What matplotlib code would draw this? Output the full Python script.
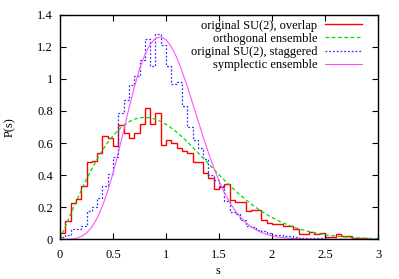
import numpy as np
import matplotlib
matplotlib.use("Agg")
import matplotlib.pyplot as plt

# level spacing histograms, bin width 0.05 on [0, 3]
bin_lo = 0.0
bin_hi = 3.0
overlap = [0.04, 0.116, 0.224, 0.25, 0.334, 0.484, 0.49, 0.536, 0.644, 0.63,
           0.58, 0.71, 0.66, 0.63, 0.66, 0.72, 0.82, 0.72, 0.79, 0.59,
           0.62, 0.60, 0.57, 0.55, 0.536, 0.484, 0.48, 0.415, 0.38, 0.315,
           0.325, 0.345, 0.245, 0.235, 0.235, 0.178, 0.18, 0.18, 0.12, 0.104,
           0.095, 0.095, 0.085, 0.085, 0.065, 0.035, 0.035, 0.045, 0.035, 0.04,
           0.015, 0.015, 0.03, 0.02, 0.02, 0.008, 0.006, 0.006, 0.004, 0.0]
staggered = [0.015, 0.025, 0.062, 0.062, 0.085, 0.178, 0.2, 0.258, 0.33, 0.405,
             0.51, 0.79, 0.87, 0.96, 1.02, 1.12, 1.25, 1.08, 1.28, 1.21,
             1.08, 0.97, 0.98, 0.83, 0.70, 0.62, 0.57, 0.50, 0.40, 0.37,
             0.33, 0.24, 0.17, 0.155, 0.12, 0.085, 0.075, 0.058, 0.05, 0.037,
             0.027, 0.027, 0.02, 0.022, 0.015, 0.01, 0.008, 0.008, 0.006, 0.005,
             0.004, 0.004, 0.003, 0.003, 0.002, 0.0, 0.0, 0.0, 0.0, 0.0]

# surmise curves read at s = 0, 0.05, ..., 3
curve_s = np.linspace(0, 3, 61)
orthogonal = [0.0, 0.0784, 0.1559, 0.2315, 0.3044, 0.3739, 0.4391, 0.4994, 0.5541, 0.6029,
              0.6454, 0.6812, 0.7104, 0.7327, 0.7483, 0.7574, 0.7601, 0.7570, 0.7483, 0.7345,
              0.7162, 0.6938, 0.6680, 0.6393, 0.6083, 0.5755, 0.5415, 0.5068, 0.4717, 0.4368,
              0.4025, 0.3690, 0.3366, 0.3055, 0.2759, 0.2481, 0.2220, 0.1977, 0.1752, 0.1546,
              0.1358, 0.1187, 0.1033, 0.0895, 0.0772, 0.0663, 0.0567, 0.0482, 0.0409, 0.0345,
              0.0290, 0.0243, 0.0202, 0.0168, 0.0138, 0.0114, 0.0093, 0.0076, 0.0062, 0.0050,
              0.0040]
symplectic = [0.0, 0.0001, 0.0011, 0.0056, 0.0170, 0.0393, 0.0766, 0.1319, 0.2067, 0.3007,
              0.4116, 0.540, 0.675, 0.815, 0.945, 1.060, 1.150, 1.215, 1.252, 1.262,
              1.245, 1.200, 1.135, 1.050, 0.955, 0.850, 0.745, 0.640, 0.540, 0.447,
              0.365, 0.2911, 0.2314, 0.1811, 0.1398, 0.1062, 0.0795, 0.0587, 0.0427, 0.0307,
              0.0217, 0.0151, 0.0104, 0.0071, 0.0047, 0.0031, 0.0020, 0.0013, 0.0008, 0.0005,
              0.0003, 0.0002, 0.0001, 0.0001, 0.0, 0.0, 0.0, 0.0, 0.0, 0.0,
              0.0]

labels = ["original SU(2), overlap", "orthogonal ensemble",
          "original SU(2), staggered", "symplectic ensemble"]
xticks = [0, 0.5, 1, 1.5, 2, 2.5, 3]
yticks = [0, 0.2, 0.4, 0.6, 0.8, 1, 1.2, 1.4]

plt.rcParams['font.family'] = ['Liberation Serif', 'DejaVu Serif']
plt.rcParams['font.size'] = 9

fig = plt.figure(figsize=(3.99, 2.79), dpi=100)
ax = fig.add_axes([0.1504, 0.1423, 0.7970, 0.8050])

edges = np.linspace(bin_lo, bin_hi, len(overlap) + 1)
ax.stairs(overlap, edges, color='#ff0000', lw=1.0, label=labels[0])
ax.plot(curve_s, orthogonal, color='#00dd00', lw=0.9, dashes=(3, 2), label=labels[1])
ax.stairs(staggered, edges, color='#3030ff', lw=0.9, linestyle=(0, (1.5, 1.5)), label=labels[2])
ax.plot(curve_s, symplectic, color='#ff50ff', lw=0.8, label=labels[3])

ax.set_xlim(0, 3)
ax.set_ylim(0, 1.4)
ax.set_xticks(xticks)
ax.set_yticks(yticks)
ax.set_xticklabels(['%g' % t for t in xticks])
ax.set_yticklabels(['%g' % t for t in yticks])
ax.tick_params(direction='in', length=4, width=0.8, top=True, right=True, pad=5)
ax.tick_params(axis='x', pad=7)
for sp in ax.spines.values():
    sp.set_linewidth(1.0)

ax.set_xlabel('s')
ax.set_ylabel('P(s)')
ax.xaxis.set_label_coords(0.497, -0.115)
ax.yaxis.set_label_coords(-0.138, 0.5)

leg = ax.legend(loc='upper right', bbox_to_anchor=(0.9497, 0.9786), frameon=False,
                markerfirst=False, handlelength=3.0, handletextpad=0.6,
                labelspacing=0.1, borderpad=0, borderaxespad=0)

fig.savefig('out.png', dpi=100)
